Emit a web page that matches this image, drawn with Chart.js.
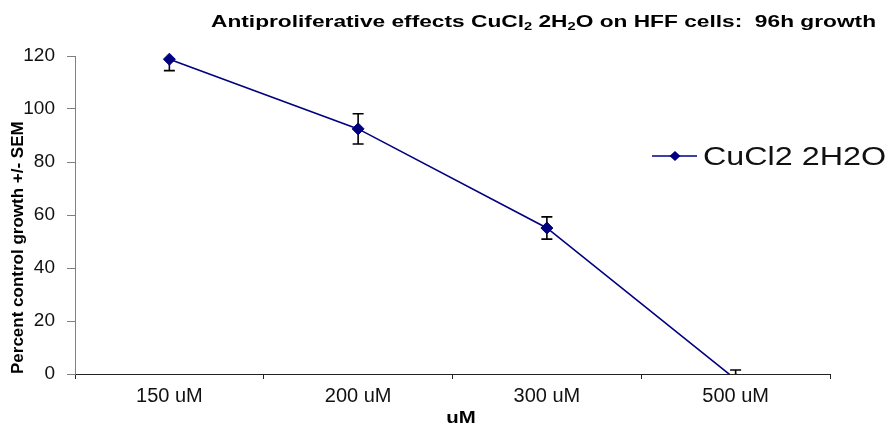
<!DOCTYPE html>
<html>
<head>
<meta charset="utf-8">
<script src="https://cdn.jsdelivr.net/npm/chart.js@4.4.0/dist/chart.umd.min.js"></script>
<style>
  html, body { margin: 0; padding: 0; background: #fff; }
  #wrap { width: 889px; height: 427px; position: relative; }
</style>
</head>
<body>
<div id="wrap"><canvas id="chart"></canvas></div>
<script>
// values
const categories = ['150 uM', '200 uM', '300 uM', '500 uM'];
const growth = [118.8, 92.5, 55.1, -2];
const sem = [4.3, 5.7, 4.2, 3.5];
const yTicks = [0, 20, 40, 60, 80, 100, 120];
const seriesName = 'CuCl2 2H2O';
const xTitle = 'uM';
// [text, isSubscript]
const titleParts = [
    ['Antiproliferative effects CuCl', false], ['2', true], [' 2H', false],
    ['2', true], ['O on HFF cells:  96h growth', false]
];

const FONT = "'Liberation Sans', Arial, sans-serif";
const NAVY = '#000080';

// error bars drawn under the line, clipped to the plot area like excel does
const errorBars = {
    id: 'errorBars',
    beforeDatasetsDraw(chart) {
        const { ctx, chartArea, scales } = chart;
        const meta = chart.getDatasetMeta(0);
        ctx.save();
        ctx.beginPath();
        ctx.rect(chartArea.left, chartArea.top, chartArea.width, chartArea.height);
        ctx.clip();
        ctx.strokeStyle = '#000';
        ctx.lineWidth = 1.6;
        meta.data.forEach((pt, i) => {
            const top = scales.y.getPixelForValue(growth[i] + sem[i]);
            const bot = scales.y.getPixelForValue(growth[i] - sem[i]);
            ctx.beginPath();
            ctx.moveTo(pt.x, top); ctx.lineTo(pt.x, bot);
            ctx.moveTo(pt.x - 5.5, top); ctx.lineTo(pt.x + 5.5, top);
            ctx.moveTo(pt.x - 5.5, bot); ctx.lineTo(pt.x + 5.5, bot);
            ctx.stroke();
        });
        ctx.restore();
    }
};

// title with subscripts, x axis title and the legend box on the right
const overlay = {
    id: 'overlay',
    afterDraw(chart) {
        const ctx = chart.ctx;
        ctx.save();
        ctx.fillStyle = '#000';
        ctx.textBaseline = 'alphabetic';

        const big = 'bold 17px ' + FONT;
        const small = 'bold 11px ' + FONT;
        let total = 0;
        titleParts.forEach(([t, sub]) => {
            ctx.font = sub ? small : big;
            total += ctx.measureText(t).width;
        });
        ctx.save();
        ctx.translate(211, 27);
        ctx.scale(665 / total, 1);
        let x = 0;
        titleParts.forEach(([t, sub]) => {
            ctx.font = sub ? small : big;
            ctx.fillText(t, x, sub ? 3 : 0);
            x += ctx.measureText(t).width;
        });
        ctx.restore();

        // x axis title, sits a little right of the plot centre in the original
        ctx.save();
        ctx.font = 'bold 17px ' + FONT;
        ctx.textAlign = 'center';
        ctx.translate(461, 423);
        ctx.scale(1.2, 1);
        ctx.fillText(xTitle, 0, 0);
        ctx.restore();

        // legend
        const ly = 156;
        ctx.strokeStyle = NAVY;
        ctx.lineWidth = 1.5;
        ctx.beginPath();
        ctx.moveTo(652, ly); ctx.lineTo(697, ly);
        ctx.stroke();
        ctx.fillStyle = NAVY;
        ctx.beginPath();
        ctx.moveTo(669.5, ly); ctx.lineTo(675, ly - 5);
        ctx.lineTo(680.5, ly); ctx.lineTo(675, ly + 5);
        ctx.closePath();
        ctx.fill();

        ctx.font = '26px ' + FONT;
        ctx.fillStyle = '#111';
        const w = ctx.measureText(seriesName).width;
        ctx.translate(703, 165);
        ctx.scale(183 / w, 1);
        ctx.fillText(seriesName, 0, 0);
        ctx.restore();
    }
};

new Chart(document.getElementById('chart'), {
    type: 'line',
    data: {
        labels: categories,
        datasets: [{
            label: seriesName,
            data: growth,
            borderColor: NAVY,
            borderWidth: 1.6,
            backgroundColor: NAVY,
            pointStyle: 'rectRot',
            pointRadius: 6,
            pointBorderWidth: 1,
            pointBorderColor: NAVY,
            pointBackgroundColor: NAVY,
            tension: 0,
            fill: false,
            clip: { left: 8, top: 8, right: 8, bottom: 0 }
        }]
    },
    options: {
        responsive: true,
        maintainAspectRatio: false,
        animation: false,
        devicePixelRatio: 1,
        layout: { padding: { left: 0, top: 56, right: 59, bottom: 0 } },
        plugins: {
            legend: { display: false },
            title: { display: false },
            tooltip: { enabled: false }
        },
        scales: {
            x: {
                offset: true,
                grid: {
                    offset: true,
                    drawOnChartArea: false,
                    drawTicks: true,
                    tickLength: 5,
                    color: '#222'
                },
                border: { color: '#222', width: 1 },
                ticks: {
                    color: '#111',
                    padding: 5,
                    maxRotation: 0,
                    font: { family: FONT, size: 20 }
                },
                title: { display: false },
                afterFit: s => { s.height = 53; }
            },
            y: {
                min: 0,
                max: 120,
                afterBuildTicks: s => { s.ticks = yTicks.map(v => ({ value: v })); },
                grid: {
                    drawOnChartArea: false,
                    drawTicks: true,
                    tickLength: 8,
                    color: '#808080'
                },
                border: { color: '#808080', width: 1 },
                ticks: {
                    color: '#111',
                    padding: 12,
                    font: { family: FONT, size: 19 }
                },
                title: {
                    display: true,
                    text: 'Percent control growth +/- SEM',
                    align: 'start',
                    color: '#000',
                    font: { family: FONT, size: 17, weight: 'bold' },
                    padding: { top: 8, bottom: 0 }
                },
                afterFit: s => { s.width = 75; }
            }
        }
    },
    plugins: [errorBars, overlay]
});
</script>
</body>
</html>
